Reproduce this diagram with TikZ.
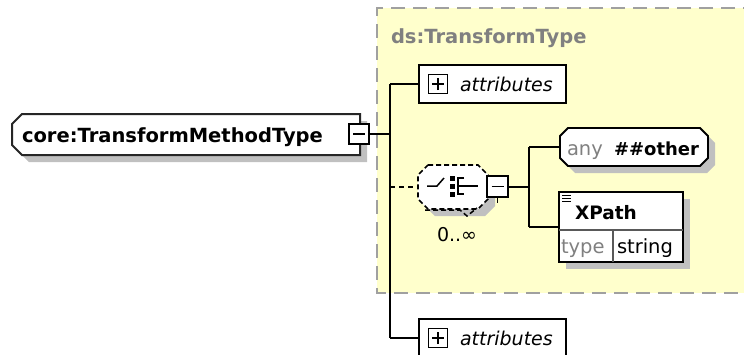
\documentclass[tikz,border=0pt]{standalone}
\usepackage{fontspec}
\setmainfont{DejaVu Sans}
\usetikzlibrary{shadows}
\definecolor{bgyellow}{RGB}{255,255,204}
\definecolor{dashgray}{RGB}{160,160,160}
\definecolor{shade}{RGB}{192,192,192}
\definecolor{titlegray}{RGB}{128,128,128}
\begin{document}
\begin{tikzpicture}[x=1pt,y=-1pt,
  frame/.style={rectangle, draw=none, inner sep=0pt, outer sep=0pt, anchor=north west},
  boxed/.style={frame, draw=black, line width=1.8pt, fill=white},
  pm/.style={rectangle, draw=black, line width=1.5pt, fill=white, inner sep=0pt, outer sep=0pt, minimum width=20pt, minimum height=20pt},
  sh/.style={drop shadow={shadow xshift=7pt, shadow yshift=-7pt, fill=shade, opacity=1}},
  edge/.style={line width=2pt, black},
  lbl/.style={inner sep=0pt, outer sep=0pt, anchor=base west, font=\fontsize{19.5}{22}\selectfont},
  blbl/.style={lbl, font=\fontsize{19.5}{22}\selectfont\bfseries},
  ilbl/.style={lbl, font=\fontsize{19}{22}\selectfont\itshape},
  sign/.style={line width=1.5pt, black},
  cdash/.style={dash pattern=on 5pt off 3pt}
]
\useasboundingbox (0,0) rectangle (744,354);
\fill[white] (0,0) rectangle (744,354);

% group box ds:TransformType
\node[frame, minimum width=380pt, minimum height=285pt] (grp) at (377,8) {};
\fill[bgyellow] (grp.north west) rectangle (grp.south east);
\draw[dashgray, line width=2pt, dash pattern=on 14pt off 8pt] (grp.north east) -- (grp.north west) -- (grp.south west) -- (grp.south east);
\node[blbl, text=titlegray] (title) at (391,43) {ds:TransformType};

% main element
\node[frame, minimum width=348pt, minimum height=41pt] (main) at (12,114) {};
\draw[sh, fill=white, draw=black!85, line width=2pt]
  ([xshift=10pt]main.north west) -- (main.north east) -- (main.south east)
  -- ([xshift=10pt]main.south west) -- ([yshift=10pt]main.south west)
  -- ([yshift=-10pt]main.north west) -- cycle;
\node[blbl] (maintext) at (22,142) {core:TransformMethodType};
\node[pm] (mainm) at (359,134) {};
\draw[sign] ([xshift=-6pt]mainm.center) -- ([xshift=6pt]mainm.center);

% attribute boxes
\node[boxed, minimum width=147pt, minimum height=38pt] (attA) at (419,65) {};
\node[pm, minimum width=19pt, minimum height=19pt] (attAp) at (438,84) {};
\draw[sign] ([xshift=-6pt]attAp.center) -- ([xshift=6pt]attAp.center);
\draw[sign] ([yshift=-6pt]attAp.center) -- ([yshift=6pt]attAp.center);
\node[ilbl] (attAt) at (460,91) {attributes};

\node[boxed, minimum width=147pt, minimum height=38pt] (attB) at (419,319) {};
\node[pm, minimum width=19pt, minimum height=19pt] (attBp) at (438,338) {};
\draw[sign] ([xshift=-6pt]attBp.center) -- ([xshift=6pt]attBp.center);
\draw[sign] ([yshift=-6pt]attBp.center) -- ([yshift=6pt]attBp.center);
\node[ilbl] (attBt) at (460,345) {attributes};

% choice compositor
\node[frame, minimum width=70pt, minimum height=44pt] (choice) at (418,165) {};
\draw[sh, fill=white, draw=black, line width=1.6pt, cdash]
  ([xshift=10pt]choice.north west) -- ([xshift=-10pt]choice.north east)
  -- ([yshift=-10pt]choice.north east) -- ([yshift=10pt]choice.south east)
  -- ([xshift=-10pt]choice.south east) -- ([xshift=10pt]choice.south west)
  -- ([yshift=10pt]choice.south west) -- ([yshift=-10pt]choice.north west) -- cycle;
\draw[black, line width=1.5pt, cdash] (425,210) -- (460,210) -- (467,216) -- (477,208);
% choice symbol
\draw[sign] (427,186) -- (437,186) -- (444,178);
\fill[black] (450,176) rectangle (454.5,180.5);
\fill[black] (450,184) rectangle (454.5,188.5);
\fill[black] (450,192) rectangle (454.5,196.5);
\draw[sign] (464,178) -- (458,178) -- (458,194) -- (464,194);
\draw[sign] (458,186) -- (478,186);
\node[pm, minimum width=21pt, minimum height=21pt] (chm) at (497.5,186.5) {};
\draw[sign] ([xshift=-6pt]chm.center) -- ([xshift=6pt]chm.center);
\draw[line width=1.2pt] (chm.south) -- ++(0,6);
\node[inner sep=0pt, anchor=base, font=\fontsize{19}{22}\selectfont] (card) at (457,241) {0..∞};

% any ##other
\node[frame, minimum width=148pt, minimum height=38pt] (anyn) at (560,128) {};
\draw[sh, fill=white, draw=black, line width=1.8pt]
  ([xshift=8pt]anyn.north west) -- ([xshift=-8pt]anyn.north east)
  -- ([yshift=-8pt]anyn.north east) -- ([yshift=8pt]anyn.south east)
  -- ([xshift=-8pt]anyn.south east) -- ([xshift=8pt]anyn.south west)
  -- ([yshift=8pt]anyn.south west) -- ([yshift=-8pt]anyn.north west) -- cycle;
\node[lbl, text=titlegray] (anyt) at (567,155) {any};
\node[blbl, font=\fontsize{18}{22}\selectfont\bfseries] (othert) at (614,155) {\#\#other};

% XPath element
\node[boxed, sh, minimum width=124pt, minimum height=70pt] (xp) at (559,192) {};
\draw[black!65, line width=1.3pt] ([yshift=-3pt]xp.west) -- ([yshift=-3pt]xp.east);
\draw[black!65, line width=1.3pt] ([xshift=54pt]xp.south west) -- ([xshift=54pt,yshift=32pt]xp.south west);
\foreach \yy in {195.5,198.5,201.5} \draw[line width=1.1pt] (562,\yy) -- (571,\yy);
\node[blbl, font=\fontsize{18.5}{22}\selectfont\bfseries] (xpt) at (575,219) {XPath};
\node[lbl, text=titlegray] (typet) at (561,253) {type};
\node[lbl] (strt) at (617,253) {string};

% connectors
\coordinate (tr) at (390,0);
\coordinate (tr2) at (529,0);
\draw[edge] (mainm.east) -- (mainm.east -| tr);
\draw[edge] (attA.west -| tr) -- (attB.west -| tr);
\draw[edge] (attA.west -| tr) -- (attA.west);
\draw[edge] (attB.west -| tr) -- (attB.west);
\draw[edge, dash pattern=on 5pt off 4pt] (choice.west -| tr) -- (choice.west);
\draw[edge] (chm.east) -- (chm.east -| tr2);
\draw[edge] (anyn.west -| tr2) -- (xp.west -| tr2);
\draw[edge] (anyn.west -| tr2) -- (anyn.west);
\draw[edge] (xp.west -| tr2) -- (xp.west);
\end{tikzpicture}
\end{document}
